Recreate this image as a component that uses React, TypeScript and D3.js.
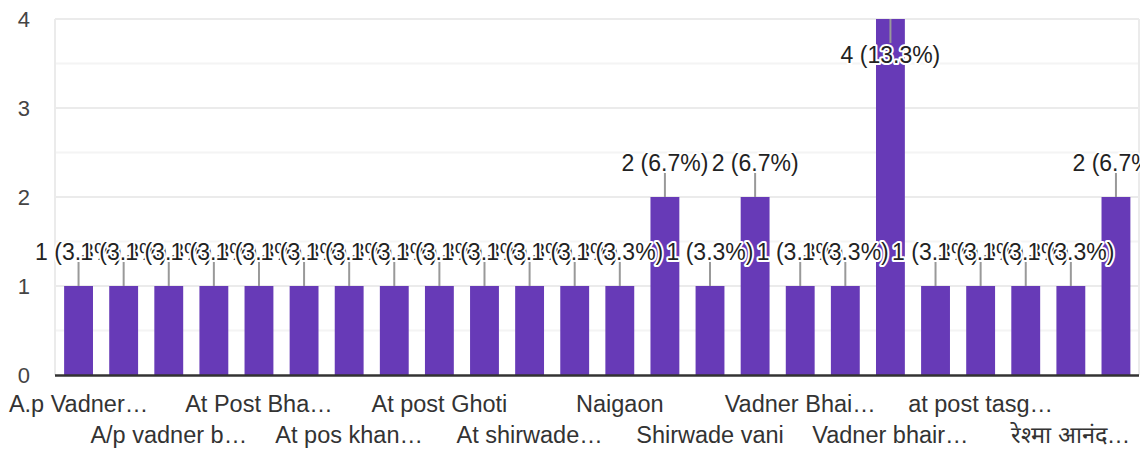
import * as d3 from "d3";

// categories (hidden ones between the shown labels are guesses; only every other label is drawn)
const categories = [
  "A.p Vadner…", "A/p Vadner…", "A/p vadner b…", "At Post Ba…", "At Post Bha…", "At pos Vad…",
  "At pos khan…", "At post Bel…", "At post Ghoti", "At post Vad…", "At shirwade…", "Bhairavnath…",
  "Naigaon", "Nashik", "Shirwade vani", "Vadner", "Vadner Bhai…", "Vadner Bhair…",
  "Vadner bhair…", "Vadner bhai…", "at post tasg…", "vadner bhai…", "रेश्मा आनंद…", "रेश्मा…",
];
const counts = [1, 1, 1, 1, 1, 1, 1, 1, 1, 1, 1, 1, 1, 2, 1, 2, 1, 1, 4, 1, 1, 1, 1, 2];
const yTicks = [0, 1, 2, 3, 4];
const gridValues = [0.5, 1, 1.5, 2, 2.5, 3, 3.5, 4];

const width = 1148;
const height = 453;
const left = 55;
const right = 1139;
const top = 19;
const bottom = 375;
const font = "'Liberation Sans', Arial, sans-serif";
const purple = "#673ab7";
const stem = 24;

export default function App() {
  const total = d3.sum(counts);

  const x = d3
    .scaleBand<string>()
    .domain(categories)
    .range([left + 1, right - 0.5])
    .paddingInner(0.36)
    .paddingOuter(0.18);

  const y = d3.scaleLinear().domain([0, 4]).range([bottom, top]);

  const labelY = (v: number) => {
    const yt = y(v);
    // not enough room above -> stem goes down into the bar
    if (yt - stem - 20 < 0) return { y1: yt, y2: yt + stem, base: yt + stem + 20 };
    return { y1: yt, y2: yt - stem, base: yt - stem - 2 };
  };

  return (
    <svg
      width={width}
      height={height}
      style={{ position: "absolute", left: 0, top: 0, background: "#fff" }}
      fontFamily={font}
    >
      <defs>
        <clipPath id="plotClip">
          <rect x={0} y={0} width={right + 1} height={height} />
        </clipPath>
      </defs>

      {/* grid */}
      {gridValues.map((g) => (
        <line
          key={"g" + g}
          x1={left}
          x2={right}
          y1={y(g)}
          y2={y(g)}
          stroke={Number.isInteger(g) ? "#ebebeb" : "#f4f4f4"}
          strokeWidth={2}
        />
      ))}
      <line x1={left} x2={left} y1={top} y2={bottom} stroke="#ebebeb" strokeWidth={2} />
      <line x1={right} x2={right} y1={top} y2={bottom} stroke="#ebebeb" strokeWidth={2} />

      {/* y tick labels */}
      {yTicks.map((t) => (
        <text
          key={"t" + t}
          x={30}
          y={y(t)}
          dy="0.36em"
          textAnchor="end"
          fontSize={22}
          fill="#444"
        >
          {t}
        </text>
      ))}

      {/* bars */}
      {categories.map((c, i) => (
        <rect
          key={"b" + c}
          x={x(c)}
          y={y(counts[i])}
          width={x.bandwidth()}
          height={y(0) - y(counts[i])}
          fill={purple}
        />
      ))}

      {/* baseline */}
      <line x1={left} x2={right} y1={bottom + 0.5} y2={bottom + 0.5} stroke="#333" strokeWidth={2.5} />

      {/* annotation stems */}
      <g clipPath="url(#plotClip)">
        {categories.map((c, i) => {
          const cx = (x(c) ?? 0) + x.bandwidth() / 2;
          const l = labelY(counts[i]);
          return (
            <line key={"s" + c} x1={cx} x2={cx} y1={l.y1} y2={l.y2} stroke="#999" strokeWidth={2} />
          );
        })}
        {categories.map((c, i) => {
          const cx = (x(c) ?? 0) + x.bandwidth() / 2;
          const l = labelY(counts[i]);
          const pct = ((counts[i] / total) * 100).toFixed(1);
          return (
            <text
              key={"a" + c}
              x={cx}
              y={l.base}
              textAnchor="middle"
              fontSize={23}
              fill="#222"
              stroke="#fff"
              strokeWidth={4}
              paintOrder="stroke"
              strokeLinejoin="round"
            >
              {`${counts[i]} (${pct}%)`}
            </text>
          );
        })}
      </g>

      {/* x labels: every other category, alternating rows */}
      {categories.map((c, i) =>
        i % 2 === 0 ? (
          <text
            key={"x" + c}
            x={(x(c) ?? 0) + x.bandwidth() / 2}
            y={(i / 2) % 2 === 0 ? 411.5 : 443}
            textAnchor="middle"
            fontSize={23.5}
            fill="#333"
          >
            {c}
          </text>
        ) : null
      )}
    </svg>
  );
}
